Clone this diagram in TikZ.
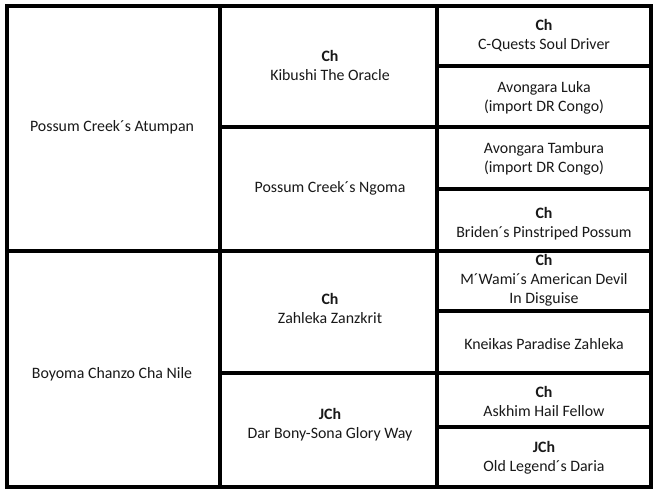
\documentclass[tikz,border=0pt]{standalone}
\usepackage{fontspec}
\setmainfont{Carlito}
\begin{document}
\begin{tikzpicture}[x=0.75pt,y=-0.75pt,
  cell/.style 2 args={draw=black, line width=2.3pt, rectangle,
    minimum width=#1*0.75pt, minimum height=#2*0.75pt, inner sep=0pt},
  txt/.style={align=center, inner sep=0pt,
    font=\fontsize{11.9}{14.25}\selectfont, text=black!90}]
\fill[white] (0,0) rectangle (658,493);
\useasboundingbox (0,0) rectangle (658,493);
% column 1
\node[cell={213}{245}] (a1) at (113.5,128.5) {};
\node[cell={213}{236}] (a2) at (113.5,369) {};
% column 2
\node[cell={217}{121}] (b1) at (328.5,66.5) {};
\node[cell={217}{124}] (b2) at (328.5,189) {};
\node[cell={217}{122}] (b3) at (328.5,312) {};
\node[cell={217}{114}] (b4) at (328.5,430) {};
% column 3
\node[cell={214}{60}] (c1) at (544,36) {};
\node[cell={214}{61}] (c2) at (544,96.5) {};
\node[cell={214}{62}] (c3) at (544,158) {};
\node[cell={214}{62}] (c4) at (544,220) {};
\node[cell={214}{60}] (c5) at (544,281) {};
\node[cell={214}{62}] (c6) at (544,342) {};
\node[cell={214}{54}] (c7) at (544,400) {};
\node[cell={214}{60}] (c8) at (544,457) {};
% texts
\node[txt] (ta1) at (112,127.5) {Possum Creek´s Atumpan};
\node[txt] (ta2) at (112,374.5) {Boyoma Chanzo Cha Nile};
\node[txt] (tb1) at (330,65) {\textbf{Ch}\\Kibushi The Oracle};
\node[txt] (tb2) at (330,188.5) {Possum Creek´s Ngoma};
\node[txt] (tb3) at (330,308) {\textbf{Ch}\\Zahleka Zanzkrit};
\node[txt] (tb4) at (330,425) {\textbf{JCh}\\Dar Bony-Sona Glory Way};
\node[txt] (tc1) at (544,35) {\textbf{Ch}\\C-Quests Soul Driver};
\node[txt] (tc2) at (544,97.5) {Avongara Luka\\(import DR Congo)};
\node[txt] (tc3) at (544,159) {Avongara Tambura\\(import DR Congo)};
\node[txt] (tc4) at (544,224) {\textbf{Ch}\\Briden´s Pinstriped Possum};
\node[txt] (tc5) at (544,280.5) {\textbf{Ch}\\M´Wami´s American Devil\\In Disguise};
\node[txt] (tc6) at (544,344.5) {Kneikas Paradise Zahleka};
\node[txt] (tc7) at (544,401) {\textbf{Ch}\\Askhim Hail Fellow};
\node[txt] (tc8) at (544,458) {\textbf{JCh}\\Old Legend´s Daria};
\end{tikzpicture}
\end{document}
